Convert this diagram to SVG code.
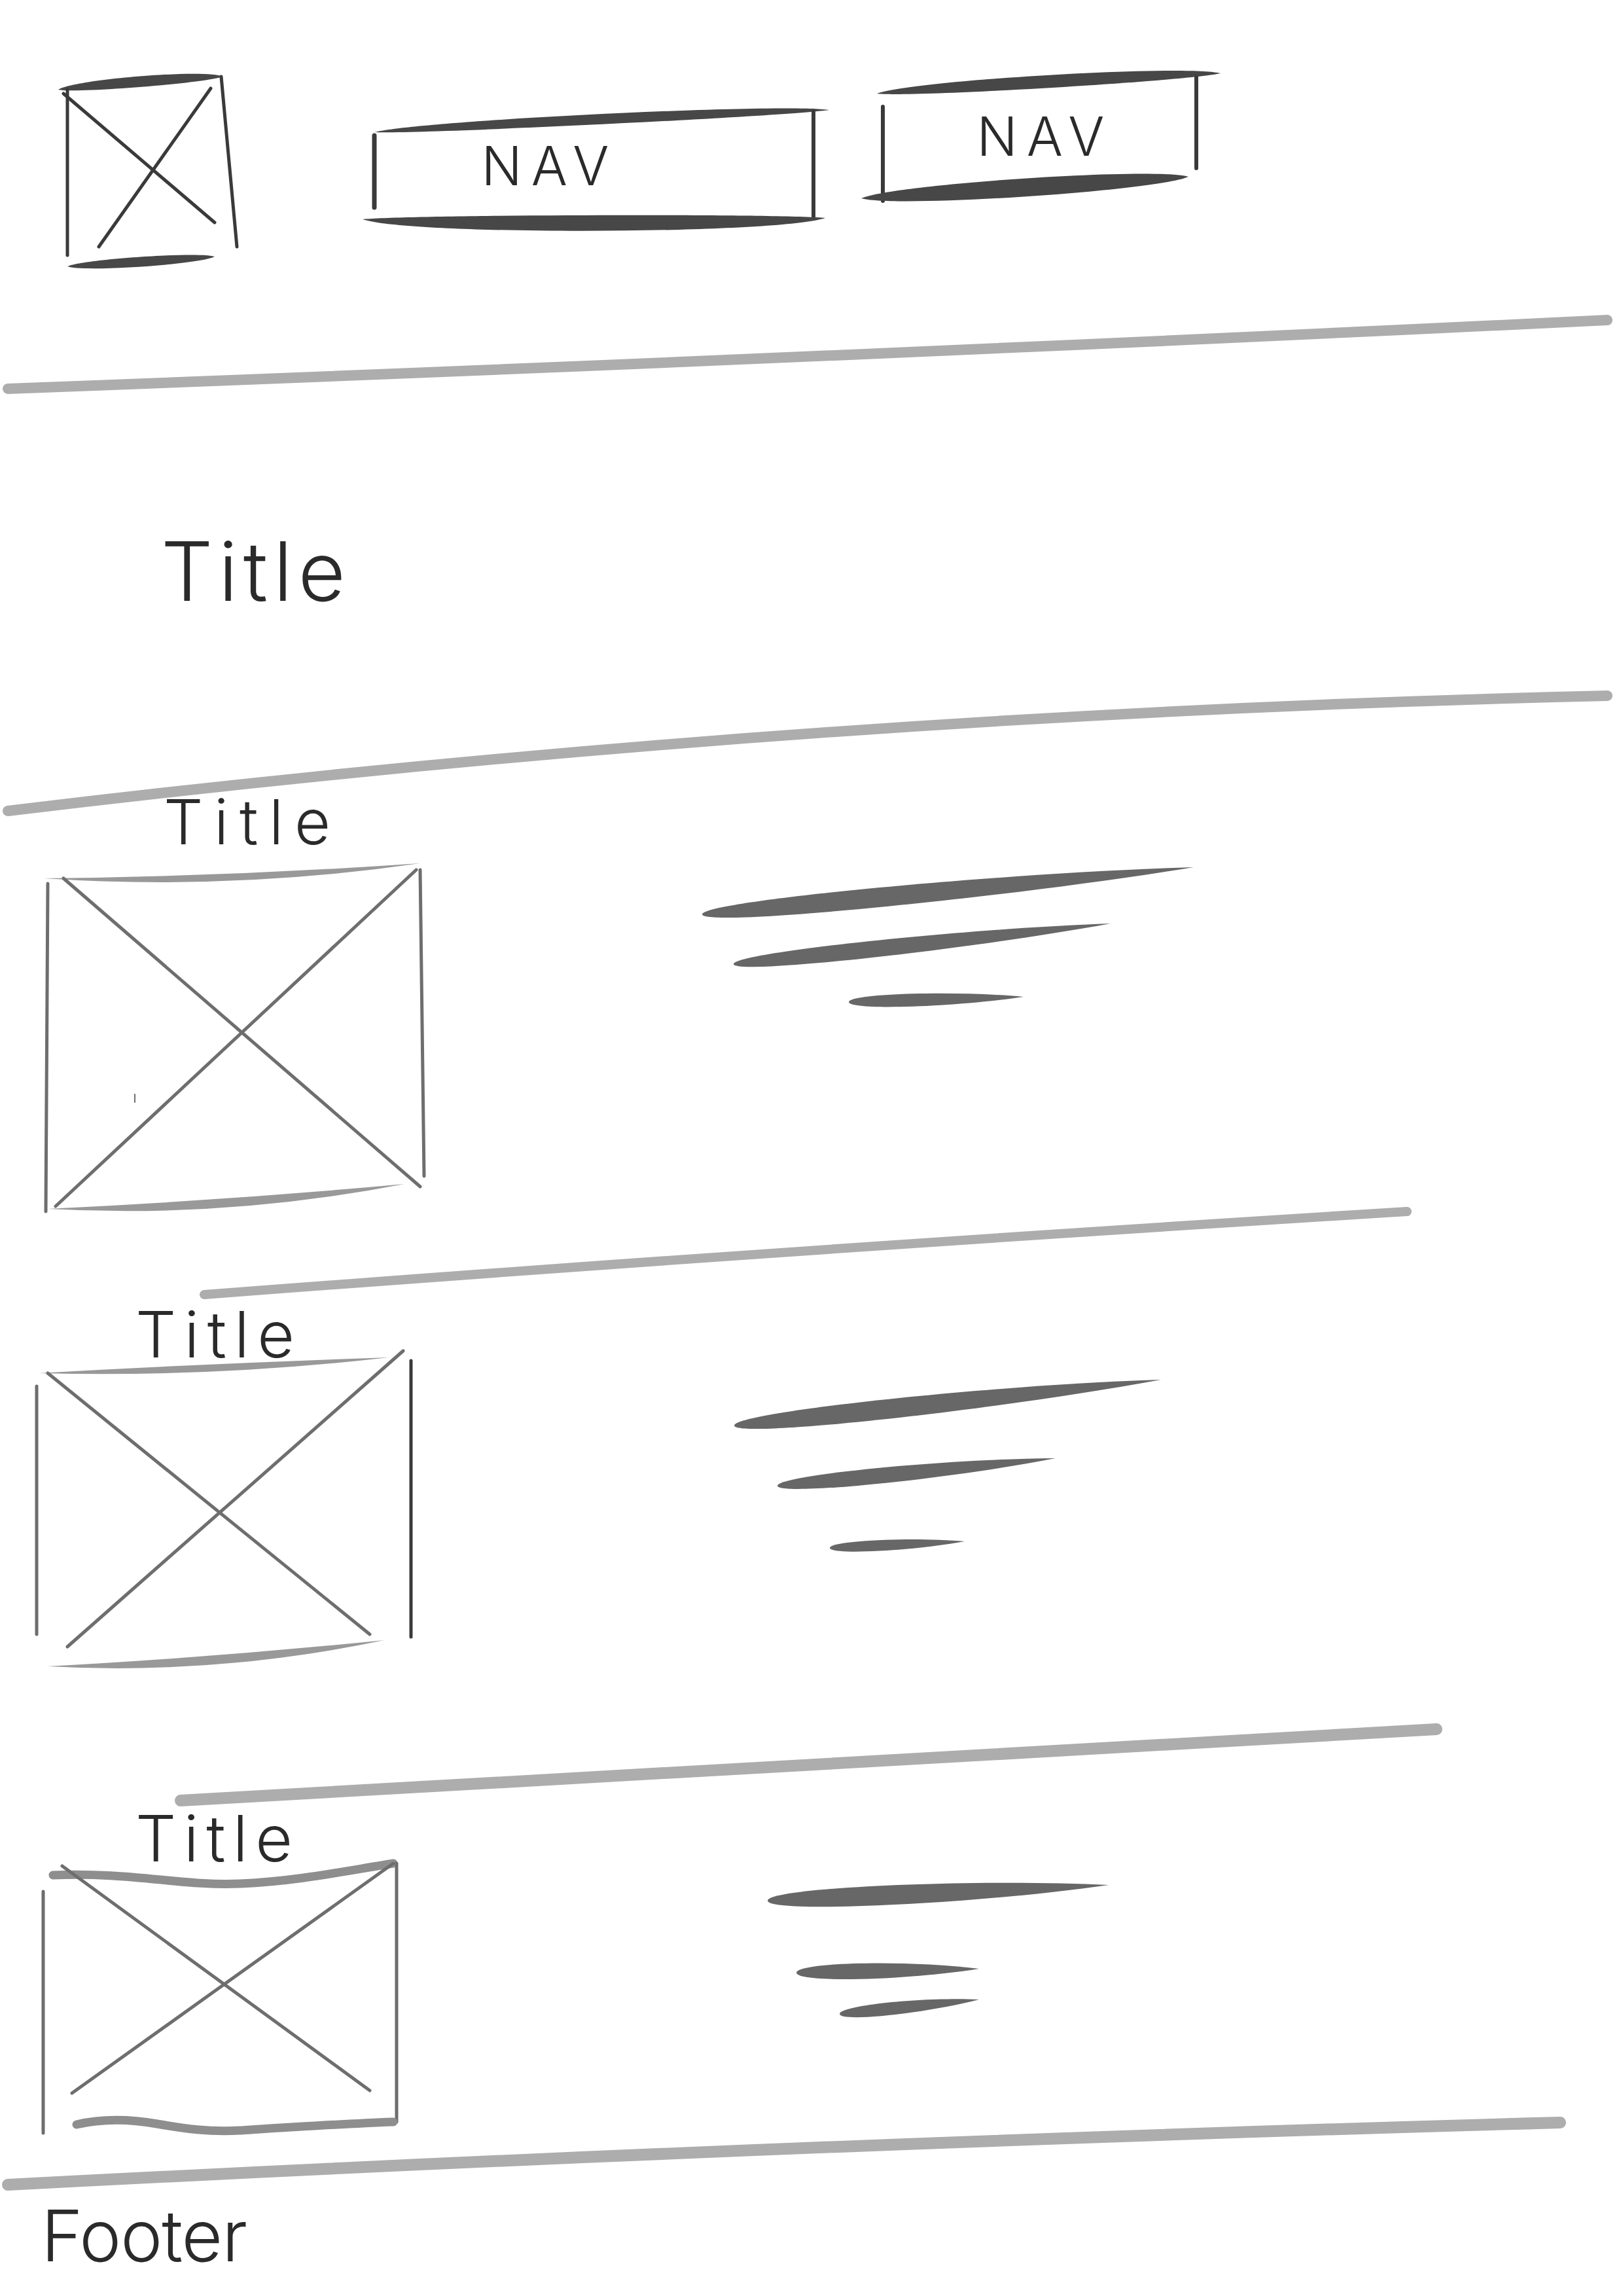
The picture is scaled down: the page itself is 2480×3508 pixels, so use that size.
<svg xmlns="http://www.w3.org/2000/svg" width="2480" height="3508" viewBox="0 0 2480 3508">
<style>
.bg{fill:#ffffff}
.bar{fill:none;stroke:#adadad;stroke-linecap:round}
.dark{fill:#474747}
.edge{fill:#999999}
.txtline{fill:#676767}
.thin{fill:none;stroke:#6e6e6e;stroke-width:5;stroke-linecap:round}
.thindk{fill:none;stroke:#3a3a3a;stroke-width:5;stroke-linecap:round}
.wavy{fill:none;stroke:#8e8e8e;stroke-width:13;stroke-linecap:round}
.hand{font-family:"Inter","DejaVu Sans","Liberation Sans",sans-serif;font-weight:300;fill:#2a2a2a}
</style>
<rect class="bg" x="0" y="0" width="2480" height="3508"/>

<g id="logo">
  <path class="dark" d="M89 137 C114 121 315 105 340 117 C315 127 114 143 89 137 Z"/>
  <path class="thindk" d="M103 137 L103 390"/>
  <path class="thindk" d="M338 117 L362 377"/>
  <path class="thindk" d="M97 143 L328 340"/>
  <path class="thindk" d="M322 135 L151 377"/>
  <path class="dark" d="M103 407 C126 396 306 384 328 392 C306 404 126 416 103 407 Z"/>
</g>

<g id="nav1">
  <path class="dark" d="M572 202 C642 184 1198 157 1267 168 C1198 178 642 205 572 202 Z"/>
  <path class="thindk" d="M572 207 L572 317" style="stroke-width:7"/>
  <path class="thindk" d="M1243 170 L1243 333" style="stroke-width:6"/>
  <path class="dark" d="M554 335 C625 328 1190 326 1261 333 C1190 358 625 360 554 335 Z"/>
  <text class="hand" x="840" y="283" font-size="82" text-anchor="middle" letter-spacing="14">NAV</text>
</g>

<g id="nav2">
  <path class="dark" d="M1340 143 C1392 123 1812 98 1865 112 C1812 124 1392 149 1340 143 Z"/>
  <path class="thindk" d="M1349 163 L1349 307" style="stroke-width:6"/>
  <path class="thindk" d="M1828 118 L1828 257" style="stroke-width:6"/>
  <path class="dark" d="M1316 303 C1366 281 1766 255 1816 270 C1766 292 1366 318 1316 303 Z"/>
  <text class="hand" x="1597" y="238" font-size="82" text-anchor="middle" letter-spacing="14">NAV</text>
</g>

<g id="dividers">
  <path class="bar" stroke-width="16" d="M12 594 Q1234 548 2456 489"/>
  <path class="bar" stroke-width="16" d="M12 1239 Q1234 1091 2456 1063"/>
  <path class="bar" stroke-width="14" d="M312 1978 Q1231 1908 2150 1851"/>
  <path class="bar" stroke-width="18" d="M276 2751 Q1235 2700 2195 2642"/>
  <path class="bar" stroke-width="18" d="M12 3338 Q1198 3276 2384 3243"/>
</g>

<g id="hero">
  <text class="hand" x="246" y="918" font-size="125" textLength="282" lengthAdjust="spacing">Title</text>
</g>

<g id="section1">
  <text class="hand" x="250" y="1290" font-size="95" textLength="255" lengthAdjust="spacing">Title</text>
  <g id="image1">
    <path class="edge" d="M67 1342 Q355 1339 642 1319 Q355 1361 67 1342 Z"/>
    <path class="thin" d="M73 1350 L70 1851"/>
    <path class="thin" d="M642 1329 L648 1797"/>
    <path class="thin" d="M97 1342 L642 1813"/>
    <path class="thin" d="M636 1329 L85 1843"/>
    <path class="thin" d="M206 1672 L206 1684" style="stroke-width:2"/>
    <path class="edge" d="M73 1847 Q345 1834 618 1809 Q345 1862 73 1847 Z"/>
  </g>
  <g id="text1">
    <path class="txtline" d="M1073 1397 C1073 1377 1524 1334 1824 1325 C1524 1374 1073 1417 1073 1397 Z"/>
    <path class="txtline" d="M1121 1473 C1121 1456 1467 1419 1697 1411 C1467 1453 1121 1490 1121 1473 Z"/>
    <path class="txtline" d="M1297 1531 C1297 1518 1457 1513 1564 1523 C1457 1539 1297 1544 1297 1531 Z"/>
  </g>
</g>

<g id="section2">
  <text class="hand" x="207" y="2074" font-size="98" textLength="243" lengthAdjust="spacing">Title</text>
  <g id="image2">
    <path class="edge" d="M59 2098 Q326 2083 594 2074 Q326 2105 59 2098 Z"/>
    <path class="thin" d="M56 2118 L56 2497"/>
    <path class="thindk" d="M628 2079 L628 2501"/>
    <path class="thin" d="M73 2098 L565 2497"/>
    <path class="thin" d="M616 2064 L103 2516"/>
    <path class="edge" d="M73 2546 Q330 2532 587 2506 Q330 2560 73 2546 Z"/>
  </g>
  <g id="text2">
    <path class="txtline" d="M1122 2178 C1122 2158 1513 2116 1774 2108 C1513 2156 1122 2198 1122 2178 Z"/>
    <path class="txtline" d="M1188 2270 C1188 2254 1443 2229 1613 2228 C1443 2261 1188 2286 1188 2270 Z"/>
    <path class="txtline" d="M1268 2365 C1268 2354 1392 2348 1474 2355 C1392 2370 1268 2376 1268 2365 Z"/>
  </g>
</g>

<g id="section3">
  <text class="hand" x="207" y="2844" font-size="98" textLength="240" lengthAdjust="spacing">Title</text>
  <g id="image3">
    <path class="wavy" d="M81 2865 C200 2860 280 2882 367 2878 S520 2860 601 2847"/>
    <path class="thin" d="M66 2890 L66 3259"/>
    <path class="thin" d="M606 2847 L606 3242"/>
    <path class="thin" d="M95 2851 L565 3194"/>
    <path class="thin" d="M601 2847 L110 3198"/>
    <path class="wavy" d="M117 3246 C160 3236 200 3238 240 3245 S320 3258 367 3255 S520 3245 601 3242"/>
  </g>
  <g id="text3">
    <path class="txtline" d="M1173 2904 C1173 2884 1486 2870 1694 2880 C1486 2910 1173 2924 1173 2904 Z"/>
    <path class="txtline" d="M1217 3014 C1217 2998 1384 2994 1496 3008 C1384 3026 1217 3030 1217 3014 Z"/>
    <path class="txtline" d="M1283 3077 C1283 3064 1411 3051 1496 3055 C1411 3077 1283 3090 1283 3077 Z"/>
  </g>
</g>

<g id="footer">
  <text class="hand" x="63" y="3455" font-size="108" textLength="315" lengthAdjust="spacing">Footer</text>
</g>
</svg>
